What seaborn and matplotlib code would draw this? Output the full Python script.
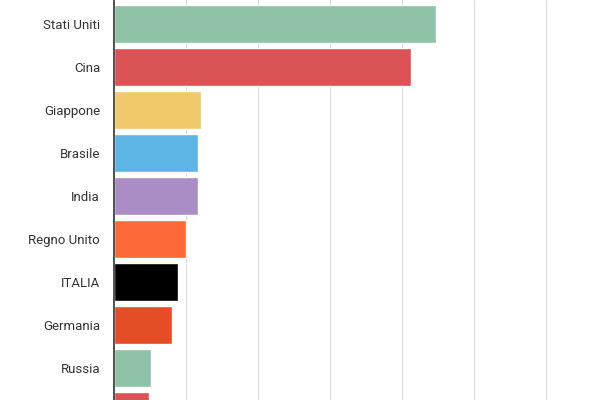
import matplotlib
matplotlib.use("Agg")
import matplotlib.pyplot as plt
import seaborn as sns
import pandas as pd

countries = ["Stati Uniti", "Cina", "Giappone", "Brasile", "India", "Regno Unito",
             "ITALIA", "Germania", "Russia", "Francia"]
values = [447, 413, 121, 117, 117, 100, 89, 81, 51, 49]
colors = ["#8ec3a7", "#dc5356", "#f0ca6a", "#5db5e6", "#ab8dc6", "#fd6a37",
          "#000000", "#e44d26", "#8ec3a7", "#dc5356"]

df = pd.DataFrame({"country": countries, "value": values})
sns.set_style("white")
plt.rcParams['font.family'] = ['Roboto', 'DejaVu Sans']

fig = plt.figure(figsize=(6, 4), dpi=100)
ax = fig.add_axes([0.19, 0.0, 0.81, 1.0])
sns.barplot(data=df, x="value", y="country", hue="country", palette=colors,
            legend=False, width=0.88, ax=ax, saturation=1)
ax.set_xlim(0, 675)
ax.set_ylim(8.74, -0.56)
ax.set_xticks([100, 200, 300, 400, 500, 600])
ax.set_xticklabels([])
ax.tick_params(axis="x", length=0)
ax.tick_params(axis="y", length=0, labelsize=9.5, labelcolor="#333333", pad=10)
ax.grid(axis="x", color="#dddddd", linewidth=0.8)
ax.set_axisbelow(True)
for s in ["top", "right", "bottom"]:
    ax.spines[s].set_visible(False)
ax.spines["left"].set_color("#333333")
ax.spines["left"].set_linewidth(1.2)
ax.set_xlabel("")
ax.set_ylabel("")
fig.savefig("out.png", dpi=100)
